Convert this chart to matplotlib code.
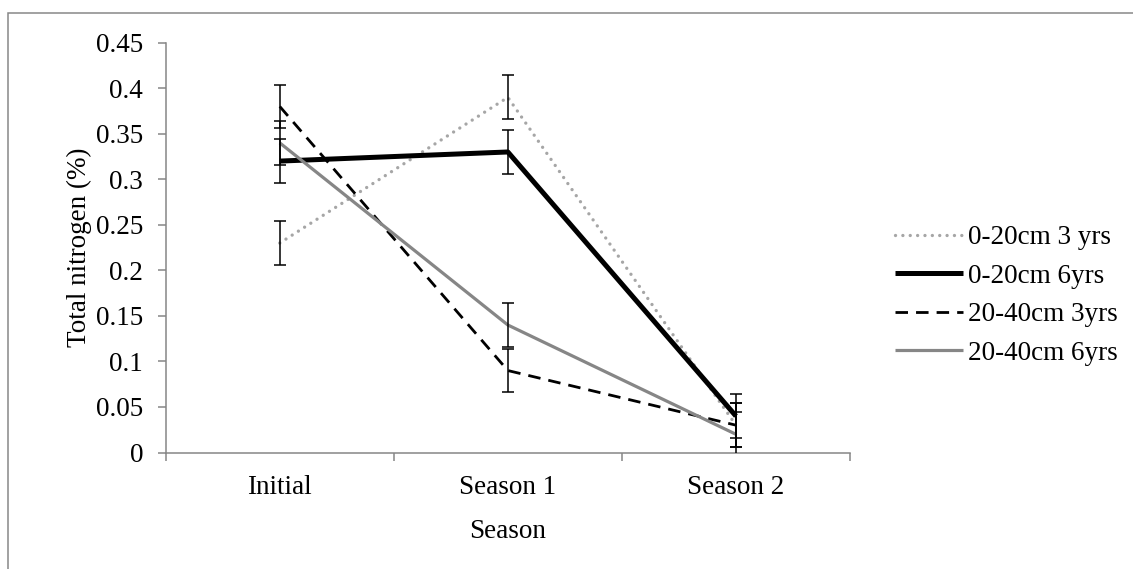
import matplotlib
matplotlib.use("Agg")
import matplotlib.pyplot as plt
from matplotlib.patches import Rectangle
from matplotlib.lines import Line2D

plt.rcParams['font.family'] = ['Liberation Serif', 'DejaVu Serif']

# ---- data ----
categories = ["Initial", "Season 1", "Season 2"]
series_names = ["0-20cm 3 yrs", "0-20cm 6yrs", "20-40cm 3yrs", "20-40cm 6yrs"]
n_0_20_3yrs = [0.23, 0.39, 0.03]
n_0_20_6yrs = [0.32, 0.33, 0.04]
n_20_40_3yrs = [0.38, 0.09, 0.03]
n_20_40_6yrs = [0.34, 0.14, 0.02]
err_0_20_3yrs = [0.024, 0.024, 0.024]
err_0_20_6yrs = [0.024, 0.024, 0.024]
err_20_40_3yrs = [0.024, 0.024, 0.024]
err_20_40_6yrs = [0.024, 0.024, 0.024]
yticks = [0, 0.05, 0.1, 0.15, 0.2, 0.25, 0.3, 0.35, 0.4, 0.45]
ytick_labels = ["0", "0.05", "0.1", "0.15", "0.2", "0.25", "0.3", "0.35", "0.4", "0.45"]

W, H = 1133, 569
FS = 19.5
AXC = '#868686'

fig = plt.figure(figsize=(W / 100, H / 100), dpi=100)
ax = fig.add_axes([165.7 / W, 116.5 / H, 684.3 / W, 409.8 / H])

# outer frame (cut off at right and bottom, as in reference)
fig.patches.append(Rectangle((8 / W, -0.2), 1.5, 1.2 - 13.3 / H, transform=fig.transFigure,
                             fill=False, edgecolor='#878787', lw=1.1))

x = list(range(len(categories)))

styles = [
    dict(data=n_0_20_3yrs, err=err_0_20_3yrs, color='#a6a6a6', lw=2.4,
         ls=(0, (0.01, 2.2)), cap='round'),
    dict(data=n_0_20_6yrs, err=err_0_20_6yrs, color='black', lw=3.6,
         ls='-', cap='butt'),
    dict(data=n_20_40_3yrs, err=err_20_40_3yrs, color='black', lw=2.0,
         ls=(0, (4.5, 2.9)), cap='butt'),
    dict(data=n_20_40_6yrs, err=err_20_40_6yrs, color='#868686', lw=2.3,
         ls='-', cap='butt'),
]

handles = []
for name, st in zip(series_names, styles):
    ax.plot(x, st['data'], color=st['color'], lw=st['lw'], linestyle=st['ls'],
            dash_capstyle=st['cap'], solid_capstyle='butt', zorder=3)
    ax.errorbar(x, st['data'], yerr=st['err'], fmt='none', ecolor='black',
                elinewidth=1.1, capsize=4.3, capthick=1.1, zorder=4)
    handles.append(Line2D([0], [0], color=st['color'], lw=st['lw'], linestyle=st['ls'],
                          dash_capstyle=st['cap'], solid_capstyle='butt', label=name))

ax.set_xlim(-0.5, 2.5)
ax.set_ylim(0, 0.45)
ax.set_yticks(yticks)
ax.set_yticklabels(ytick_labels)
ax.set_xticks([-0.5, 0.5, 1.5, 2.5])
ax.set_xticklabels(["", "", "", ""])
ax.set_xticks(x, minor=True)
ax.set_xticklabels(categories, minor=True)

for s in ['top', 'right']:
    ax.spines[s].set_visible(False)
for s in ['left', 'bottom']:
    ax.spines[s].set_color(AXC)
    ax.spines[s].set_linewidth(1.1)

ax.tick_params(axis='both', which='major', direction='out', length=5.8, width=1.1,
               color=AXC, labelsize=FS)
ax.tick_params(axis='y', which='major', pad=10.5)
ax.tick_params(axis='x', which='minor', length=0, labelsize=FS, pad=16)

ax.set_xlabel("Season", fontsize=FS, labelpad=14)
ax.set_ylabel("Total nitrogen (%)", fontsize=FS, labelpad=3)

ax.legend(handles=handles, loc='center left', bbox_to_anchor=(895 / W, 1 - 295.5 / H),
          bbox_transform=fig.transFigure, frameon=False, fontsize=FS,
          borderpad=0, borderaxespad=0, handlelength=2.5, handletextpad=0.2,
          labelspacing=0.5)

fig.savefig("out.png", dpi=100)
